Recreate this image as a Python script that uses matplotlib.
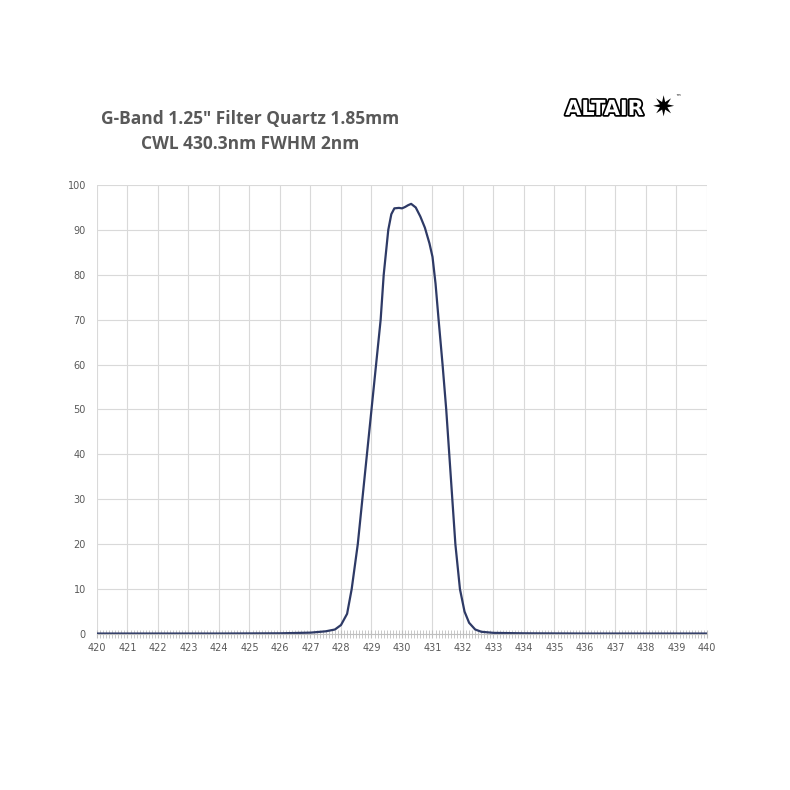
import numpy as np
import matplotlib.pyplot as plt
import matplotlib.patheffects as pe

wavelength = [420, 424, 426, 427, 427.5, 427.8, 428.0, 428.2, 428.35, 428.55, 428.7, 428.85,
              429.0, 429.15, 429.3, 429.4, 429.55, 429.65, 429.75, 429.9, 430.0, 430.1,
              430.2, 430.3, 430.45, 430.6, 430.75, 430.9, 431.0, 431.1, 431.2, 431.33,
              431.45, 431.55, 431.65, 431.75, 431.9, 432.05, 432.2, 432.4, 432.6, 433.0,
              434, 436, 440]
transmission = [0.1, 0.1, 0.15, 0.3, 0.6, 1.0, 2.0, 4.5, 10, 20, 30, 40,
                50, 60, 70, 80, 90, 93.5, 94.8, 94.9, 94.8, 95.1,
                95.5, 95.8, 95.0, 93.0, 90.5, 87.0, 84.0, 78.0, 70, 60,
                50, 40, 30, 20, 10, 5.0, 2.5, 1.0, 0.5, 0.25,
                0.15, 0.1, 0.1]

fig = plt.figure(figsize=(7.9, 7.9), dpi=100)
ax = fig.add_axes([97/790, 1-634/790, 610/790, 449/790])
ax.plot(wavelength, transmission, color='#2e3a66', lw=1.6)
ax.set_xlim(420, 440)
ax.set_ylim(0, 100)
ax.set_xticks(range(420, 441))
ax.set_yticks(range(0, 101, 10))
ax.set_xticks(np.arange(420, 440.01, 0.1), minor=True)
ax.grid(True, color='#d9d9d9', lw=0.8)
ax.set_axisbelow(True)
for s in ['top', 'right', 'left']:
    ax.spines[s].set_visible(False)
ax.spines['bottom'].set_color('#bfbfbf')
ax.tick_params(axis='x', which='minor', direction='inout', length=6, color='#bfbfbf')
ax.tick_params(axis='x', which='major', direction='inout', length=6, color='#bfbfbf',
               labelsize=7, labelcolor='#595959')
ax.tick_params(axis='y', length=0, labelsize=7, labelcolor='#595959', pad=8)

fig.text(0.317, 0.833, 'G-Band 1.25" Filter Quartz 1.85mm\nCWL 430.3nm FWHM 2nm',
         ha='center', va='center', fontsize=12.5, fontweight='bold', color='#595959',
         family='Open Sans', linespacing=1.5)
fig.text(0.765, 0.862, 'ALTAIR', ha='center', va='center', fontsize=15, fontweight='bold',
         color='white', family='DejaVu Sans',
         path_effects=[pe.withStroke(linewidth=2.5, foreground='black')])
fig.text(0.84, 0.862, '✷', ha='center', va='center', fontsize=20, color='black')
fig.text(0.858, 0.876, '™', ha='center', va='center', fontsize=4, color='black')

fig.savefig('out.png')
